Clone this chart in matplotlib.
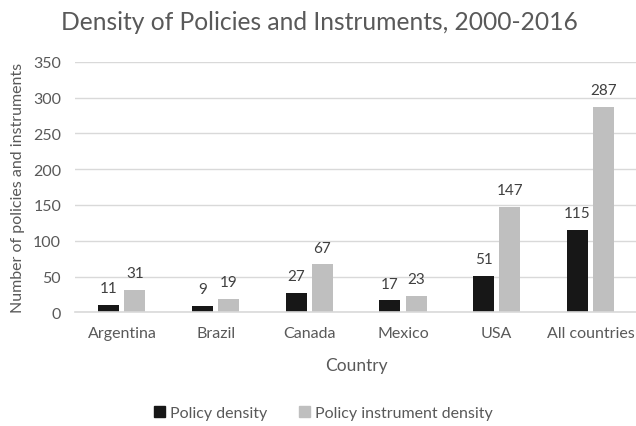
import numpy as np
import matplotlib.pyplot as plt
from matplotlib.patches import Patch

# chart data
countries = ['Argentina', 'Brazil', 'Canada', 'Mexico', 'USA', 'All countries']
policy_density = [11, 9, 27, 17, 51, 115]
instrument_density = [31, 19, 67, 23, 147, 287]
y_ticks = [0, 50, 100, 150, 200, 250, 300, 350]

plt.rcParams['font.family'] = ['Lato', 'DejaVu Sans']
text_col = '#595959'
black = '#171717'
gray = '#bfbfbf'

fig = plt.figure(figsize=(6.36, 4.27), dpi=100)
ax = fig.add_axes([0.118, 0.266, 0.884, 0.587])

x = np.arange(len(countries))
w = 0.224
off = 0.139
b1 = ax.bar(x - off, policy_density, w, color=black)
b2 = ax.bar(x + off, instrument_density, w, color=gray)

# value labels above bars
for bars in (b1, b2):
    for rect in bars:
        ax.annotate(f'{int(rect.get_height())}',
                    (rect.get_x() + rect.get_width() / 2, rect.get_height()),
                    xytext=(0, 7), textcoords='offset points',
                    ha='center', va='bottom', fontsize=11, color='#404040')

ax.set_xlim(-0.5, len(countries) - 0.5)
ax.set_ylim(0, 350)
ax.set_yticks(y_ticks)
ax.set_xticks(x)
ax.set_xticklabels(countries)
ax.tick_params(axis='both', length=0, labelsize=11.5, labelcolor=text_col)
ax.tick_params(axis='x', pad=10)
ax.tick_params(axis='y', pad=10)

ax.yaxis.grid(True, color='#d9d9d9', linewidth=1)
ax.set_axisbelow(True)
for s in ['top', 'right', 'left']:
    ax.spines[s].set_visible(False)
ax.spines['bottom'].set_color('#d9d9d9')
ax.spines['bottom'].set_linewidth(1.2)

ax.set_xlabel('Country', fontsize=12.5, color=text_col, labelpad=12)
ax.set_ylabel('Number of policies and instruments', fontsize=11.5, color=text_col, labelpad=6)

fig.text(0.503, 0.948, 'Density of Policies and Instruments, 2000-2016',
         ha='center', va='center', fontsize=17.7, color=text_col)

handles = [Patch(color=black), Patch(color=gray)]
fig.legend(handles, ['Policy density', 'Policy instrument density'],
           loc='center', bbox_to_anchor=(0.508, 0.031), ncol=2, frameon=False,
           fontsize=11.5, labelcolor=text_col, handlelength=0.7, handleheight=0.7,
           handletextpad=0.3, columnspacing=2.0)

fig.savefig('out.png', dpi=100)
